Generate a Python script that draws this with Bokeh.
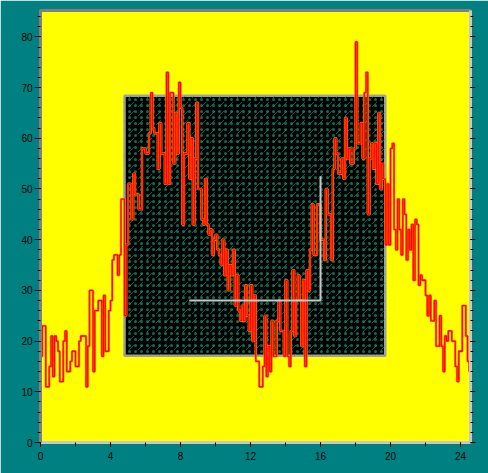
from bokeh.plotting import figure
from bokeh.models import LinearAxis, SingleIntervalTicker, Range1d
from bokeh.embed import file_html
from bokeh.resources import INLINE

# ---- data ----
bin_width = 0.1
signal = [
    17, 23, 23, 11, 11, 15, 21, 13, 21, 20,
    18, 12, 12, 20, 22, 14, 14, 16, 18, 18,
    15, 15, 20, 21, 21, 21, 11, 19, 30, 30,
    14, 26, 26, 28, 28, 17, 29, 18, 18, 26,
    28, 36, 37, 37, 33, 37, 48, 48, 25, 39,
    51, 51, 44, 53, 49, 49, 46, 46, 58, 58,
    57, 57, 61, 69, 62, 61, 61, 54, 63, 57,
    57, 51, 73, 51, 69, 69, 55, 65, 57, 71,
    66, 43, 57, 57, 63, 52, 60, 43, 56, 67,
    50, 50, 44, 43, 52, 43, 41, 42, 37, 40,
    41, 38, 37, 35, 40, 33, 38, 30, 35, 33,
    38, 27, 33, 26, 24, 27, 24, 31, 25, 22,
    31, 20, 29, 16, 16, 11, 11, 15, 25, 13,
    19, 14, 24, 17, 17, 24, 28, 22, 22, 17,
    32, 17, 15, 22, 34, 21, 28, 33, 28, 19,
    32, 15, 34, 30, 38, 47, 37, 37, 47, 47,
    40, 40, 36, 50, 45, 45, 36, 54, 60, 57,
    53, 53, 56, 52, 64, 56, 58, 55, 55, 58,
    79, 59, 59, 63, 56, 69, 73, 45, 56, 59,
    54, 59, 51, 65, 50, 55, 52, 39, 51, 39,
    58, 59, 42, 38, 48, 42, 37, 48, 45, 36,
    42, 38, 43, 32, 44, 43, 31, 33, 32, 32,
    29, 25, 29, 24, 24, 28, 19, 19, 25, 19,
    14, 21, 20, 22, 22, 20, 20, 15, 12, 18,
    18, 27, 27, 21, 16, 14, 0,
]
bin_x = [round(i * bin_width, 1) for i in range(len(signal))]

overlay_x = [4.8, 19.7]      # black inset rectangle (x extent)
overlay_y = [17.1, 68.4]     # black inset rectangle (y extent)
marker_x = [8.5, 16.0, 16.0]
marker_y = [28, 28, 52.5]

x_range = (0, 24.57)
y_range = (0, 85.2)

# ---- figure ----
p = figure(width=488, height=473, output_backend="svg", toolbar_location=None,
           x_range=Range1d(*x_range), y_range=Range1d(*y_range),
           x_axis_location=None, y_axis_location=None)
p.min_border_left = 40
p.min_border_right = 18
p.min_border_top = 10
p.min_border_bottom = 31
p.background_fill_color = "#ffff00"
p.border_fill_color = "#008080"
p.outline_line_color = "#808080"
p.outline_line_width = 3
p.xgrid.visible = False
p.ygrid.visible = False

font = "Liberation Sans"

def style_axis(ax, labels=True, line_color="#808080"):
    ax.axis_line_color = line_color
    ax.axis_line_width = 3
    ax.major_tick_line_color = "#000000"
    ax.minor_tick_line_color = "#000000"
    ax.major_tick_in = 0
    ax.minor_tick_in = 0
    ax.major_label_text_font = font
    ax.major_label_text_font_size = "10px"
    ax.major_label_text_color = "#000000"
    if not labels:
        ax.major_label_text_alpha = 0
        ax.major_label_text_font_size = "1px"

yl = LinearAxis(ticker=SingleIntervalTicker(interval=10, num_minor_ticks=5))
style_axis(yl, True, "#808080")
yl.major_tick_out = 6
yl.minor_tick_out = 3
yl.major_label_standoff = 2
p.add_layout(yl, "left")

yr = LinearAxis(ticker=SingleIntervalTicker(interval=10, num_minor_ticks=5))
style_axis(yr, False, "#c8c8c8")
yr.major_tick_out = 5
yr.minor_tick_out = 3
yr.major_label_standoff = 0
p.add_layout(yr, "right")

xb = LinearAxis(ticker=SingleIntervalTicker(interval=4, num_minor_ticks=2))
style_axis(xb, True, "#c8c8c8")
xb.major_tick_out = 4
xb.minor_tick_out = 4
xb.major_label_standoff = 5
p.add_layout(xb, "below")

# black inset with speckle texture
p.quad(left=[overlay_x[0]], right=[overlay_x[1]], bottom=[overlay_y[0]], top=[overlay_y[1]],
       fill_color="#000000", line_color="#a0a0a0", line_width=2.5,
       hatch_pattern=".", hatch_color="#2ad6a4", hatch_scale=6, hatch_weight=1.0, hatch_alpha=0.5)
p.quad(left=[overlay_x[0]], right=[overlay_x[1]], bottom=[overlay_y[0]], top=[overlay_y[1]],
       fill_alpha=0, line_alpha=0,
       hatch_pattern=",", hatch_color="#1a9a74", hatch_scale=9, hatch_weight=1.0, hatch_alpha=0.6)

# step signal
p.step(bin_x, signal, mode="after", line_color="#ff8a00", line_width=2.4)
p.step(bin_x, signal, mode="after", line_color="#ff0000", line_width=1.3)

# white marker line
p.line(marker_x, marker_y, line_color="#c8c8c8", line_width=2)

open("out.html", "w").write(file_html(p, INLINE))
